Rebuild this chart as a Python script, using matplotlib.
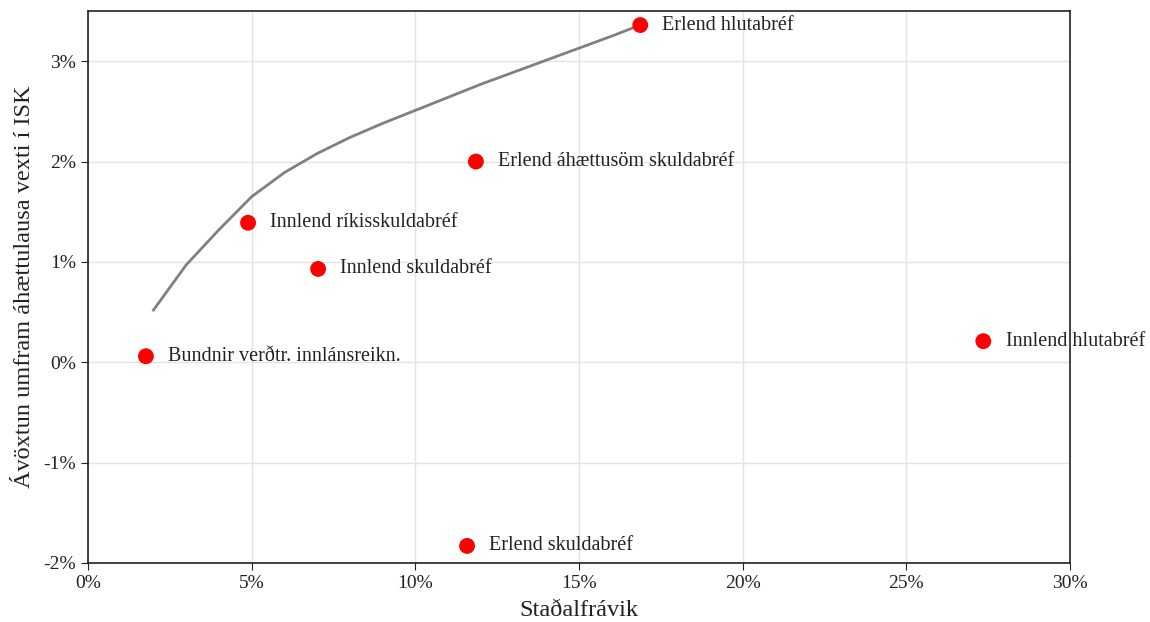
#!/usr/bin/env python3

import matplotlib
matplotlib.use('Agg')
import matplotlib.pyplot as plt
from matplotlib.ticker import FuncFormatter, MultipleLocator

# eignaflokkar: staðalfrávik (%) og ávöxtun umfram áhættulausa vexti (%)
names = ['Bundnir verðtr. innlánsreikn.', 'Innlend ríkisskuldabréf',
         'Innlend skuldabréf', 'Erlend áhættusöm skuldabréf',
         'Erlend hlutabréf', 'Innlend hlutabréf', 'Erlend skuldabréf']
std = [1.77, 4.89, 7.03, 11.85, 16.87, 27.35, 11.58]
ret = [0.06, 1.39, 0.93, 2.00, 3.36, 0.21, -1.83]

# skilvirknilína
front_std = [2, 3, 4, 5, 6, 7, 8, 9, 10, 11, 12, 13, 14, 15, 16, 16.87]
front_ret = [0.52, 0.97, 1.32, 1.65, 1.89, 2.08, 2.24, 2.38, 2.51, 2.64,
             2.77, 2.89, 3.01, 3.13, 3.25, 3.36]

plt.rcParams['font.family'] = ['Liberation Serif', 'DejaVu Serif']

fig = plt.figure(figsize=(11.5, 6.22), dpi=100)
ax = fig.add_axes([0.0765, 0.0949, 0.854, 0.8874])

ax.plot(front_std, front_ret, color='#808080', lw=2, zorder=2)
ax.scatter(std, ret, s=130, color='#ff0000', edgecolors='none', zorder=3)
for name, x, y in zip(names, std, ret):
    ax.annotate(name, (x, y), xytext=(16, 0), textcoords='offset points',
                va='center', ha='left', fontsize=14.5, color='#222222',
                annotation_clip=False)

ax.set_xlim(0, 30)
ax.set_ylim(-2, 3.5)
ax.xaxis.set_major_locator(MultipleLocator(5))
ax.yaxis.set_major_locator(MultipleLocator(1))
ax.xaxis.set_major_formatter(FuncFormatter(lambda v, p: '%d%%' % round(v)))
ax.yaxis.set_major_formatter(FuncFormatter(lambda v, p: '%d%%' % round(v)))
ax.tick_params(labelsize=14, colors='#222222', length=5)
ax.grid(color='#e3e3e3', lw=1)
ax.set_axisbelow(True)
for s in ax.spines.values():
    s.set_color('#222222')
    s.set_linewidth(1.2)

ax.set_xlabel('Staðalfrávik', fontsize=17.5, color='#222222', labelpad=6)
ax.set_ylabel('Ávöxtun umfram áhættulausa vexti í ISK', fontsize=17.5,
              color='#222222', labelpad=6)

plt.savefig('out.png', dpi=100)
plt.close(fig)
